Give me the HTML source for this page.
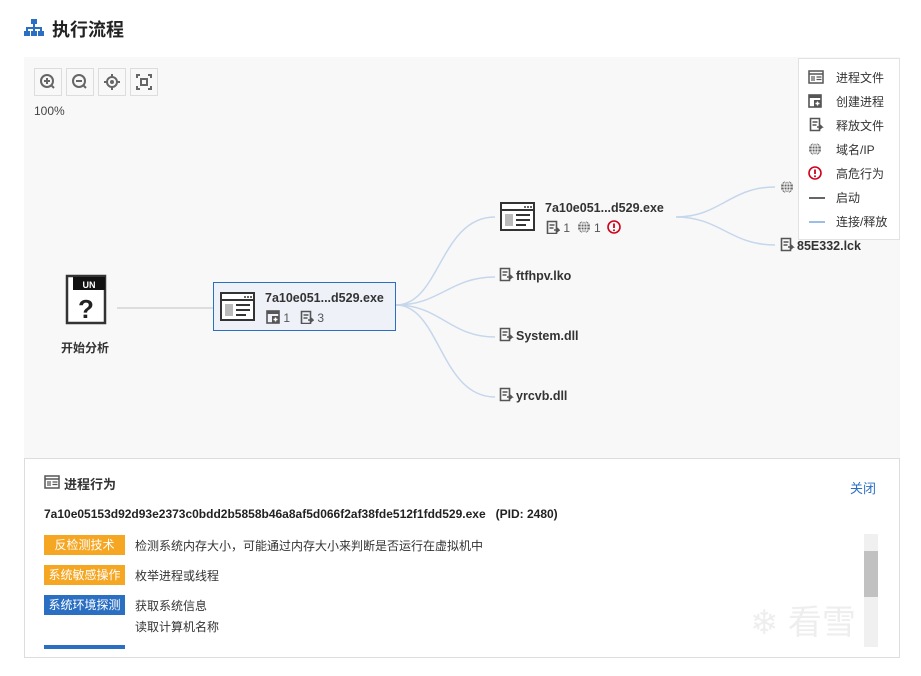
<!DOCTYPE html>
<html><head><meta charset="utf-8"><style>
*{margin:0;padding:0;box-sizing:border-box}
body{width:921px;height:676px;background:#fff;font-family:"Liberation Sans","Noto Sans CJK SC",sans-serif;position:relative;overflow:hidden;color:#333}
.a{position:absolute}
.btn{position:absolute;top:68px;width:28px;height:28px;border:1px solid #ddd;background:#f8f8f8}
.t{font-size:12.5px;font-weight:bold;color:#333;white-space:nowrap}
.s{font-size:12px;color:#555}
.lg{font-size:12px;color:#333;left:836px}
.tag{position:absolute;left:44px;height:20px;line-height:20px;color:#fff;font-size:12px;padding:0 4px;width:81px;text-align:center}
.desc{position:absolute;left:135px;font-size:12px;color:#333}
svg.i{vertical-align:-2px}
</style></head><body>
<svg style="display:none"><defs>
<g id="rel"><path d="M1.5 1.5h9v12h-9z" fill="none" stroke="#555" stroke-width="1.6"/><path d="M3.5 5h5M3.5 8h4" stroke="#555" stroke-width="1.4"/><path d="M8 10h5l-2-2M13 10l-2 2" stroke="#555" stroke-width="1.5" fill="none"/></g>
<g id="glb"><circle cx="7" cy="7" r="6" fill="#666"/><path d="M1 7h12M7 1v12M2 4h10M2 10h10" stroke="#fff" stroke-width="0.9"/><ellipse cx="7" cy="7" rx="3" ry="6" fill="none" stroke="#fff" stroke-width="0.9"/></g>
<g id="crt"><rect x="1" y="1" width="12" height="12" fill="none" stroke="#555" stroke-width="1.6"/><rect x="1" y="1" width="12" height="3" fill="#555"/><rect x="6" y="6" width="7" height="7" fill="#555"/><path d="M9.5 7.5v4M7.5 9.5h4" stroke="#fff" stroke-width="1.4"/></g>
<g id="alr"><circle cx="7" cy="7" r="6" fill="none" stroke="#d0021b" stroke-width="1.6"/><path d="M7 3.5v4.5" stroke="#d0021b" stroke-width="1.8"/><circle cx="7" cy="10.3" r="1" fill="#d0021b"/></g>
<g id="pf"><rect x="1" y="1" width="14" height="12" fill="none" stroke="#555" stroke-width="1.5"/><path d="M1 4h14" stroke="#555" stroke-width="1.5"/><rect x="3" y="6" width="4" height="5" fill="#999"/><path d="M8.5 7h5M8.5 9.5h5" stroke="#555" stroke-width="1.2"/></g>
</defs></svg>
<svg class="a" style="left:24px;top:18px" width="20" height="20" viewBox="0 0 20 20"><g fill="#2b6fc3"><rect x="7" y="1" width="6" height="5"/><rect x="9" y="6" width="2" height="4"/><rect x="2" y="9" width="16" height="2"/><rect x="2" y="9" width="2" height="4"/><rect x="9" y="9" width="2" height="4"/><rect x="16" y="9" width="2" height="4"/><rect x="0" y="13" width="6" height="5"/><rect x="7" y="13" width="6" height="5"/><rect x="14" y="13" width="6" height="5"/></g></svg>
<div class="a" style="left:52px;top:16px;font-size:18px;font-weight:bold;color:#222">执行流程</div>

<div class="a" style="left:24px;top:57px;width:876px;height:401px;background:#f8f8f8"></div>
<div class="btn" style="left:34px"><svg width="26" height="26"><circle cx="12" cy="12" r="6" fill="none" stroke="#666" stroke-width="2"/><path d="M9 12h6M12 9v6M16 16l3 3" stroke="#666" stroke-width="2"/></svg></div>
<div class="btn" style="left:66px"><svg width="26" height="26"><circle cx="12" cy="12" r="6" fill="none" stroke="#666" stroke-width="2"/><path d="M9 12h6M16 16l3 3" stroke="#666" stroke-width="2"/></svg></div>
<div class="btn" style="left:98px"><svg width="26" height="26"><circle cx="13" cy="13" r="5" fill="none" stroke="#666" stroke-width="2"/><circle cx="13" cy="13" r="2" fill="#666"/><path d="M13 5v3M13 18v3M5 13h3M18 13h3" stroke="#666" stroke-width="2"/></svg></div>
<div class="btn" style="left:130px"><svg width="26" height="26"><path d="M6 9V6h3M17 6h3v3M20 17v3h-3M9 20H6v-3" stroke="#666" stroke-width="2" fill="none"/><rect x="10" y="10" width="6" height="6" fill="none" stroke="#666" stroke-width="2"/></svg></div>
<div class="a" style="left:34px;top:104px;font-size:12px;color:#444">100%</div>

<svg class="a" style="left:0;top:0" width="921" height="458">
<path d="M117 308H213" stroke="#ddd" stroke-width="2" fill="none"/>
<g stroke="#c6d7ec" stroke-width="1.5" fill="none">
<path d="M396 305C440 305 440 217 495 217"/>
<path d="M396 305C440 305 450 277 495 277"/>
<path d="M396 305C440 305 450 337 495 337"/>
<path d="M396 305C440 305 440 397 495 397"/>
<path d="M676 217C720 217 730 187 775 187"/>
<path d="M676 217C720 217 730 245 775 245"/>
</g>
<g stroke="#333" stroke-width="2.5" fill="#fff"><path d="M67 276h38v47H67z"/></g>
<rect x="73" y="277" width="32" height="13" fill="#111"/>
<text x="89" y="288" font-size="9" font-weight="bold" fill="#fff" text-anchor="middle" font-family="Liberation Sans">UN</text>
<text x="86" y="318" font-size="26" font-weight="bold" fill="#222" text-anchor="middle" font-family="Liberation Sans">?</text>
<g transform="translate(499,267)"><use href="#rel"/></g>
<g transform="translate(499,327)"><use href="#rel"/></g>
<g transform="translate(499,387)"><use href="#rel"/></g>
<g transform="translate(780,237)"><use href="#rel"/></g>
<g transform="translate(780,180)"><use href="#glb"/></g>
</svg>
<div class="a s" style="left:61px;top:339px;color:#333;font-weight:bold">开始分析</div>

<div class="a" style="left:213px;top:282px;width:183px;height:49px;border:1px solid #2b6fc3;background:#eef2f8"></div>
<svg class="a" style="left:220px;top:292px" width="36" height="30"><rect x="1" y="1" width="33" height="27" fill="#fff" stroke="#333" stroke-width="2"/><path d="M1 8h33" stroke="#333" stroke-width="2"/><rect x="5" y="12" width="8" height="12" fill="#bbb"/><path d="M16 13h14M16 18h14M16 23h10" stroke="#333" stroke-width="2"/><circle cx="25" cy="5" r="1" fill="#333"/><circle cx="28" cy="5" r="1" fill="#333"/><circle cx="31" cy="5" r="1" fill="#333"/></svg>
<div class="a t" style="left:265px;top:291px">7a10e051...d529.exe</div>
<div class="a s" style="left:266px;top:310px"><svg class="i" width="14" height="14"><use href="#crt"/></svg> 1 &nbsp; <svg class="i" width="14" height="14"><use href="#rel"/></svg> 3</div>

<svg class="a" style="left:500px;top:202px" width="36" height="30"><rect x="1" y="1" width="33" height="27" fill="#fff" stroke="#333" stroke-width="2"/><path d="M1 8h33" stroke="#333" stroke-width="2"/><rect x="5" y="12" width="8" height="12" fill="#bbb"/><path d="M16 13h14M16 18h14M16 23h10" stroke="#333" stroke-width="2"/><circle cx="25" cy="5" r="1" fill="#333"/><circle cx="28" cy="5" r="1" fill="#333"/><circle cx="31" cy="5" r="1" fill="#333"/></svg>
<div class="a t" style="left:545px;top:201px">7a10e051...d529.exe</div>
<div class="a s" style="left:546px;top:220px"><svg class="i" width="14" height="14"><use href="#rel"/></svg> 1 &nbsp;<svg class="i" width="14" height="14"><use href="#glb"/></svg> 1 &nbsp;<svg class="i" width="14" height="14"><use href="#alr"/></svg></div>

<div class="a t" style="left:516px;top:269px">ftfhpv.lko</div>
<div class="a t" style="left:516px;top:329px">System.dll</div>
<div class="a t" style="left:516px;top:389px">yrcvb.dll</div>
<div class="a t" style="left:797px;top:239px">85E332.lck</div>

<div class="a" style="left:798px;top:58px;width:102px;height:182px;background:#fff;border:1px solid #e2e2e2"></div>
<svg class="a" style="left:808px;top:69px" width="18" height="160">
<g transform="translate(0,1)"><use href="#pf"/></g>
<g transform="translate(0,25)"><use href="#crt"/></g>
<g transform="translate(1,48)"><use href="#rel"/></g>
<g transform="translate(0,73)"><use href="#glb"/></g>
<g transform="translate(0,97)"><use href="#alr"/></g>
</svg>
<div class="a lg" style="top:69px">进程文件</div>
<div class="a lg" style="top:93px">创建进程</div>
<div class="a lg" style="top:117px">释放文件</div>
<div class="a lg" style="top:141px">域名/IP</div>
<div class="a lg" style="top:165px">高危行为</div>
<div class="a" style="left:809px;top:197px;width:16px;height:2px;background:#666"></div><div class="a lg" style="top:189px">启动</div>
<div class="a" style="left:809px;top:221px;width:16px;height:2px;background:#9ebde4"></div><div class="a lg" style="top:213px">连接/释放</div>

<div class="a" style="left:24px;top:458px;width:876px;height:200px;border:1px solid #ddd;background:#fff"></div>
<svg class="a" style="left:44px;top:475px" width="16" height="14"><use href="#pf"/></svg>
<div class="a" style="left:64px;top:474px;font-size:13px;font-weight:bold;color:#333">进程行为</div>
<div class="a" style="left:850px;top:478px;font-size:13px;color:#2b6fc3">关闭</div>
<div class="a" style="left:44px;top:507px;font-size:12px;font-weight:bold;color:#222">7a10e05153d92d93e2373c0bdd2b5858b46a8af5d066f2af38fde512f1fdd529.exe &nbsp; (PID: 2480)</div>
<div class="tag" style="top:535px;background:#f5a623">反检测技术</div><div class="desc" style="top:537px">检测系统内存大小，可能通过内存大小来判断是否运行在虚拟机中</div>
<div class="tag" style="top:565px;background:#f5a623">系统敏感操作</div><div class="desc" style="top:567px">枚举进程或线程</div>
<div class="tag" style="top:595px;background:#2b6fc3">系统环境探测</div><div class="desc" style="top:597px">获取系统信息</div>
<div class="desc" style="top:618px">读取计算机名称</div>
<div class="a" style="left:44px;top:645px;width:81px;height:4px;background:#2b6fc3"></div>
<div class="a" style="left:864px;top:534px;width:14px;height:113px;background:#f0f0f0"></div>
<div class="a" style="left:864px;top:551px;width:14px;height:46px;background:#c1c1c1"></div>
<div class="a" style="left:750px;top:595px;font-size:34px;color:#eee">❄ 看雪</div>
</body></html>
